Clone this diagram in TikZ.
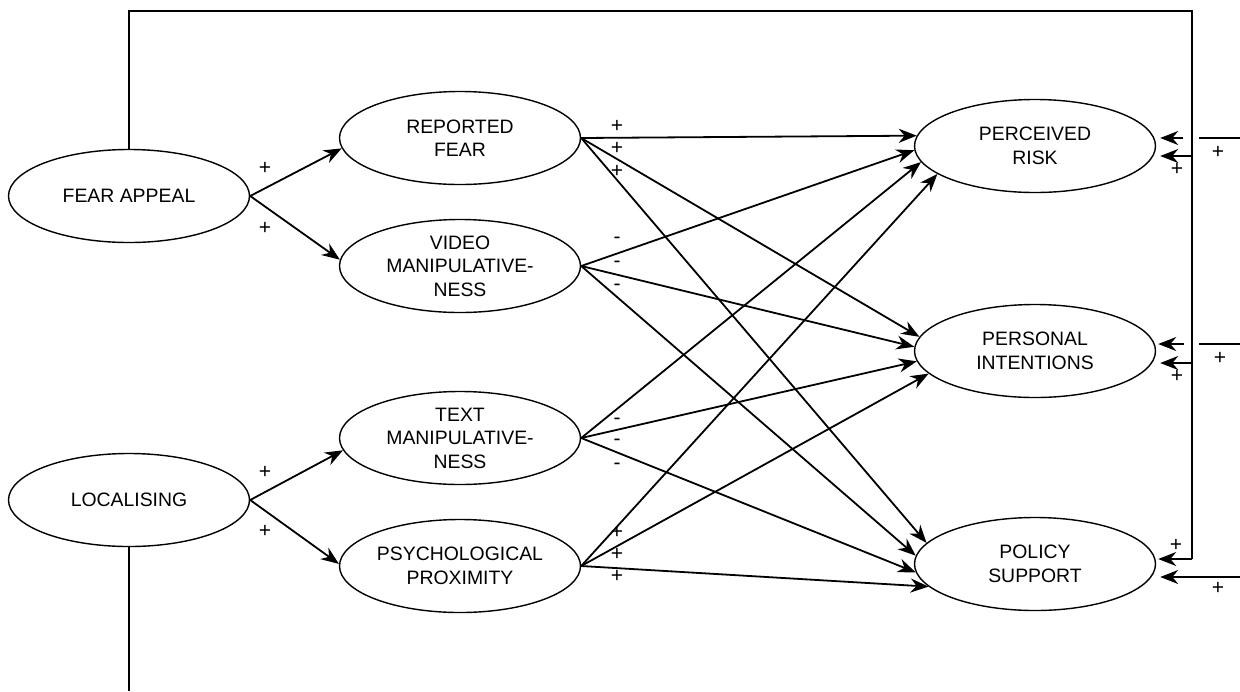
\documentclass[tikz,border=0pt]{standalone}
\usepackage{fontspec}
\setmainfont{Liberation Sans}
\usetikzlibrary{arrows.meta,shapes.geometric}
\begin{document}
\begin{tikzpicture}[x=0.5pt,y=-0.5pt,
  el/.style={ellipse, draw, line width=0.7pt, minimum width=120.5pt, minimum height=46.5pt, inner sep=0pt, align=center, font=\fontsize{9.7}{11.75}\selectfont},
  arr/.style={line width=0.9pt, -{Stealth[length=9pt,width=7pt]}},
  ln/.style={line width=0.9pt},
  sg/.style={font=\fontsize{10.5}{10}\selectfont, inner sep=0pt}]
\useasboundingbox (0,0) rectangle (1240,691);
\node[el] (fa) at (129,196) {FEAR APPEAL};
\node[el] (lo) at (129,500) {LOCALISING};
\node[el] (rf) at (460,138) {REPORTED\\FEAR};
\node[el] (vm) at (460,266) {VIDEO\\MANIPULATIVE-\\NESS};
\node[el] (tm) at (460,438) {TEXT\\MANIPULATIVE-\\NESS};
\node[el] (pp) at (460,566) {PSYCHOLOGICAL\\PROXIMITY};
\node[el] (pr) at (1035,146) {PERCEIVED\\RISK};
\node[el] (pi) at (1035,351) {PERSONAL\\INTENTIONS};
\node[el] (ps) at (1035,564) {POLICY\\SUPPORT};
% left arrows
\draw[arr] (fa.east) -- (rf.185);
\draw[arr] (fa.east) -- (vm.177);
\draw[arr] (lo.east) -- (tm.186);
\draw[arr] (lo.east) -- (pp.179);
\node[sg] (s1) at (265,168) {+};
\node[sg] (s2) at (265,228) {+};
\node[sg] (s3) at (265,472) {+};
\node[sg] (s4) at (265,531) {+};
% middle arrows
\draw[arr] (rf.east) -- (pr.175);
\draw[arr] (rf.east) -- (pi.173);
\draw[arr] (rf.east) -- (ps.169);
\draw[arr] (vm.east) -- (pr.182);
\draw[arr] (vm.east) -- (pi.178);
\draw[arr] (vm.east) -- (ps.176);
\draw[arr] (tm.east) -- (pr.188);
\draw[arr] (tm.east) -- (pi.185);
\draw[arr] (tm.east) -- (ps.184);
\draw[arr] (pp.east) -- (pr.196);
\draw[arr] (pp.east) -- (pi.192);
\draw[arr] (pp.east) -- (ps.192);
\node[sg] (r1) at (617,126) {+};
\node[sg] (r2) at (617,148) {+};
\node[sg] (r3) at (617,171) {+};
\node[sg] (v1) at (617,240) {-};
\node[sg] (v2) at (617,264) {-};
\node[sg] (v3) at (617,287) {-};
\node[sg] (t1) at (617,421) {-};
\node[sg] (t2) at (617,442) {-};
\node[sg] (t3) at (617,466) {-};
\node[sg] (p1) at (617,532) {+};
\node[sg] (p2) at (617,554) {+};
\node[sg] (p3) at (617,576) {+};
% right side
\coordinate (tr) at (1192,11);
\coordinate (c1) at (1192,156);
\coordinate (c2) at (1192,363);
\coordinate (c3) at (1192,559);
\draw[ln] (fa.north) |- (tr) -- (c3);
\draw[arr, shorten >=1pt] (c3) -- (ps.east |- c3);
\draw[arr, shorten >=2pt] (c1) -- (pr.east |- c1);
\draw[arr, shorten >=2pt] (c2) -- (pi.east |- c2);
\coordinate (a1) at (1183,138);
\coordinate (b1) at (1199,138);
\coordinate (e1) at (1240,138);
\draw[arr, shorten >=2pt] (a1) -- (pr.east |- a1);
\draw[ln] (b1) -- (e1);
\coordinate (a2) at (1184,344);
\coordinate (b2) at (1199,344);
\coordinate (e2) at (1240,344);
\draw[arr, shorten >=1pt] (a2) -- (pi.east |- a2);
\draw[ln] (b2) -- (e2);
\coordinate (e3) at (1240,577);
\draw[arr, shorten >=2pt] (e3) -- (ps.east |- e3);
\node[sg] (q1) at (1218,152) {+};
\node[sg] (q2) at (1177,169) {+};
\node[sg] (q3) at (1220,358) {+};
\node[sg] (q4) at (1177,376) {+};
\node[sg] (q5) at (1176,545) {+};
\node[sg] (q6) at (1218,588) {+};
% bottom
\coordinate (bot) at (129,691);
\draw[ln] (lo.south) -- (bot);
\end{tikzpicture}
\end{document}
